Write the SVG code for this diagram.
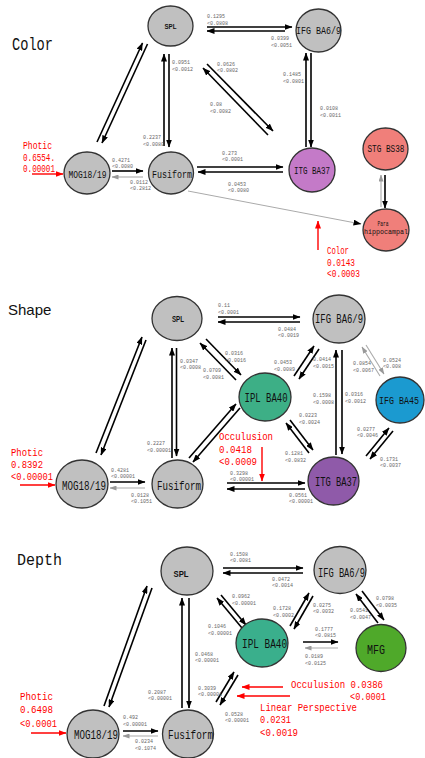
<svg xmlns="http://www.w3.org/2000/svg" width="425" height="758" viewBox="0 0 425 758">
<defs>
<marker id="ah" markerUnits="userSpaceOnUse" markerWidth="8" markerHeight="6" refX="7.5" refY="3" orient="auto"><path d="M0,0 L8,3 L0,6 z" fill="#000"/></marker>
<marker id="ag" markerUnits="userSpaceOnUse" markerWidth="7" markerHeight="5" refX="6.5" refY="2.5" orient="auto"><path d="M0,0 L7,2.5 L0,5 z" fill="#999"/></marker>
<marker id="ar" markerUnits="userSpaceOnUse" markerWidth="8" markerHeight="6" refX="7.5" refY="3" orient="auto"><path d="M0,0 L8,3 L0,6 z" fill="#f00"/></marker>
<style>
.n{stroke:#333;stroke-width:1.3}
.g{fill:#c0c0c0}
.t{font-family:"Liberation Mono",monospace;fill:#111;text-anchor:middle}
.sp{font-family:"Liberation Sans",Arial,sans-serif;font-weight:bold;fill:#111;text-anchor:middle}
.lb{font-family:"Liberation Mono",monospace;font-size:5px;fill:#666}
.red{font-family:"Liberation Mono",monospace;font-size:11px;fill:#f00}
.ttl{font-family:"Liberation Mono",monospace;fill:#111}
.k{stroke:#000;stroke-width:1.6;fill:none;marker-end:url(#ah)}
.gr{stroke:#aaa;stroke-width:1.1;fill:none;marker-end:url(#ag)}
.gk{stroke:#aaa;stroke-width:1;fill:none;marker-end:url(#ah)}
.r{stroke:#f00;stroke-width:1.4;fill:none;marker-end:url(#ar)}
</style>
</defs>
<rect width="425" height="758" fill="#fff"/>

<!-- titles -->
<text class="ttl" x="12" y="50" font-size="18" textLength="41" lengthAdjust="spacingAndGlyphs">Color</text>
<text x="8" y="315" font-family="Liberation Sans, Arial, sans-serif" font-size="15" fill="#111">Shape</text>
<text class="ttl" x="17" y="565" font-size="17" textLength="45" lengthAdjust="spacingAndGlyphs">Depth</text>

<!-- connectors -->
<g id="connectors">
<!-- Color -->
<line class="k" x1="97" y1="142" x2="142.5" y2="43"/>
<line class="k" x1="147.5" y1="44" x2="102" y2="143"/>
<line class="k" x1="164" y1="146" x2="164" y2="54"/>
<line class="k" x1="169" y1="54" x2="169" y2="147"/>
<line class="k" x1="207" y1="27" x2="292" y2="27"/>
<line class="k" x1="285" y1="31" x2="207" y2="31"/>
<line class="k" x1="268" y1="135" x2="203" y2="68"/>
<line class="k" x1="207" y1="64" x2="273" y2="131"/>
<line class="k" x1="306" y1="147" x2="306" y2="53"/>
<line class="k" x1="311" y1="53" x2="311" y2="147"/>
<line class="k" x1="197" y1="167" x2="283" y2="167"/>
<line class="k" x1="283" y1="172" x2="198" y2="172"/>
<line class="gk" x1="188" y1="191" x2="361" y2="224"/>
<line class="k" x1="112" y1="171" x2="143" y2="171"/>
<line class="gr" x1="143" y1="177" x2="112" y2="177"/>
<line class="gr" x1="381" y1="207" x2="381" y2="175"/>
<line class="k" x1="385" y1="175" x2="385" y2="208"/>
<line class="r" x1="32" y1="174" x2="63" y2="174"/>
<line class="r" x1="318" y1="250" x2="318" y2="221"/>
<!-- Shape -->
<line class="k" x1="96" y1="453" x2="142" y2="337"/>
<line class="k" x1="146" y1="340" x2="101" y2="455"/>
<line class="k" x1="172" y1="458" x2="172" y2="348"/>
<line class="k" x1="176.5" y1="348" x2="176.5" y2="456"/>
<line class="k" x1="218" y1="317" x2="300" y2="317"/>
<line class="k" x1="300" y1="322" x2="218" y2="322"/>
<line class="k" x1="236" y1="380" x2="200" y2="343"/>
<line class="k" x1="206" y1="339" x2="241" y2="375"/>
<line class="k" x1="294" y1="376" x2="314" y2="346"/>
<line class="k" x1="319" y1="349" x2="299" y2="379"/>
<line class="k" x1="336" y1="455" x2="336" y2="350"/>
<line class="k" x1="342" y1="350" x2="342" y2="454"/>
<line class="gr" x1="380" y1="376" x2="362" y2="347"/>
<line class="gr" x1="366" y1="345" x2="384" y2="374"/>
<line class="k" x1="309" y1="453" x2="286" y2="423"/>
<line class="k" x1="290" y1="420" x2="313" y2="450"/>
<line class="k" x1="366" y1="456" x2="389" y2="428"/>
<line class="k" x1="393" y1="431" x2="370" y2="459"/>
<line class="k" x1="189" y1="458" x2="236" y2="404"/>
<line class="k" x1="240" y1="408" x2="193" y2="462"/>
<line class="k" x1="227" y1="483" x2="305" y2="483"/>
<line class="k" x1="305" y1="489" x2="227" y2="489"/>
<line class="k" x1="110" y1="482" x2="145" y2="482"/>
<line class="gr" x1="145" y1="488" x2="110" y2="488"/>
<line class="r" x1="20" y1="485" x2="55" y2="485"/>
<line class="r" x1="262" y1="447" x2="262" y2="481"/>
<!-- Depth -->
<line class="k" x1="223" y1="568" x2="303" y2="568"/>
<line class="k" x1="303" y1="573" x2="223" y2="573"/>
<line class="k" x1="104" y1="706" x2="147" y2="586"/>
<line class="k" x1="152" y1="588" x2="109" y2="707"/>
<line class="k" x1="182" y1="708" x2="182" y2="598"/>
<line class="k" x1="189" y1="598" x2="189" y2="708"/>
<line class="k" x1="242" y1="628" x2="217" y2="598"/>
<line class="k" x1="221" y1="595" x2="246" y2="625"/>
<line class="k" x1="290" y1="626" x2="309" y2="593"/>
<line class="k" x1="313" y1="596" x2="294" y2="629"/>
<line class="k" x1="378" y1="623" x2="356" y2="594"/>
<line class="k" x1="362" y1="591" x2="384" y2="620"/>
<line class="k" x1="303" y1="642" x2="338" y2="642"/>
<line class="gr" x1="338" y1="648" x2="305" y2="648"/>
<line class="k" x1="216" y1="702" x2="234" y2="672"/>
<line class="k" x1="238" y1="675" x2="220" y2="705"/>
<line class="k" x1="123" y1="731" x2="158" y2="731"/>
<line class="gr" x1="158" y1="736" x2="123" y2="736"/>
<line class="r" x1="31" y1="733" x2="66" y2="733"/>
<line class="r" x1="283" y1="687" x2="242" y2="687"/>
<line class="r" x1="290" y1="696" x2="237" y2="696"/>
</g>

<!-- edge labels -->
<g id="edge-labels">
<text class="lb" x="207" y="18">0.1295<tspan x="207" dy="7">&lt;0.0808</tspan></text>
<text class="lb" x="271" y="40">0.0399<tspan x="271" dy="6.5">&lt;0.0051</tspan></text>
<text class="lb" x="172" y="64">0.0951<tspan x="172" dy="7">&lt;0.0012</tspan></text>
<text class="lb" x="143" y="139">0.2237<tspan x="143" dy="6.5">&lt;0.0080</tspan></text>
<text class="lb" x="217" y="65.5">0.0626<tspan x="217" dy="6.5">&lt;0.0802</tspan></text>
<text class="lb" x="210" y="106">0.08<tspan x="210" dy="6.5">&lt;0.0082</tspan></text>
<text class="lb" x="283" y="76">0.1485<tspan x="283" dy="6.5">&lt;0.0801</tspan></text>
<text class="lb" x="320" y="110">0.0108<tspan x="320" dy="7">&lt;0.0011</tspan></text>
<text class="lb" x="222" y="154.5">0.273<tspan x="222" dy="6">&lt;0.0001</tspan></text>
<text class="lb" x="228" y="186">0.0453<tspan x="228" dy="6">&lt;0.0080</tspan></text>
<text class="lb" x="112" y="162">0.4271<tspan x="112" dy="6">&lt;0.0080</tspan></text>
<text class="lb" x="130" y="184">0.0112<tspan x="130" dy="6">&lt;0.2812</tspan></text>

<text class="lb" x="218" y="307">0.11<tspan x="218" dy="6.5">&lt;0.0001</tspan></text>
<text class="lb" x="278" y="330.5">0.0484<tspan x="278" dy="6">&lt;0.0019</tspan></text>
<text class="lb" x="180" y="363">0.0347<tspan x="180" dy="6">&lt;0.0008</tspan></text>
<text class="lb" x="225" y="355">0.0316<tspan x="225" dy="6.5">&lt;0.0016</tspan></text>
<text class="lb" x="203" y="372">0.0709<tspan x="203" dy="6.5">&lt;0.0081</tspan></text>
<text class="lb" x="274" y="364">0.0453<tspan x="274" dy="6.5">&lt;0.0089</tspan></text>
<text class="lb" x="313" y="361">0.0414<tspan x="313" dy="7">&lt;0.0015</tspan></text>
<text class="lb" x="353" y="365">0.0854<tspan x="353" dy="6.5">&lt;0.0067</tspan></text>
<text class="lb" x="383" y="361.5">0.0524<tspan x="383" dy="6.5">&lt;0.008</tspan></text>
<text class="lb" x="313" y="397">0.1598<tspan x="313" dy="7">&lt;0.0008</tspan></text>
<text class="lb" x="345" y="396">0.0316<tspan x="345" dy="7">&lt;0.0012</tspan></text>
<text class="lb" x="299" y="417">0.0223<tspan x="299" dy="7">&lt;0.0024</tspan></text>
<text class="lb" x="285" y="455">0.1281<tspan x="285" dy="6.5">&lt;0.0832</tspan></text>
<text class="lb" x="357" y="430.5">0.0277<tspan x="357" dy="6.5">&lt;0.0046</tspan></text>
<text class="lb" x="380" y="460.5">0.1731<tspan x="380" dy="6.5">&lt;0.0037</tspan></text>
<text class="lb" x="147" y="445">0.2227<tspan x="147" dy="6.5">&lt;0.00001</tspan></text>
<text class="lb" x="111" y="472">0.4281<tspan x="111" dy="6">&lt;0.00001</tspan></text>
<text class="lb" x="131" y="496.5">0.0128<tspan x="131" dy="6.5">&lt;0.1051</tspan></text>
<text class="lb" x="230" y="475">0.3298<tspan x="230" dy="6">&lt;0.00001</tspan></text>
<text class="lb" x="289" y="496.5">0.0561<tspan x="289" dy="6.5">&lt;0.00001</tspan></text>

<text class="lb" x="230" y="555.5">0.1508<tspan x="230" dy="6.5">&lt;0.0081</tspan></text>
<text class="lb" x="272" y="580.5">0.0472<tspan x="272" dy="6">&lt;0.0014</tspan></text>
<text class="lb" x="232" y="598">0.0962<tspan x="232" dy="6.5">&lt;0.00001</tspan></text>
<text class="lb" x="208" y="628">0.1046<tspan x="208" dy="6.5">&lt;0.00001</tspan></text>
<text class="lb" x="273" y="610">0.1728<tspan x="273" dy="7">&lt;0.0002</tspan></text>
<text class="lb" x="313" y="606.5">0.0275<tspan x="313" dy="6.5">&lt;0.0032</tspan></text>
<text class="lb" x="376" y="599.5">0.0798<tspan x="376" dy="7">&lt;0.0035</tspan></text>
<text class="lb" x="350" y="612">0.0541<tspan x="350" dy="7">&lt;0.0047</tspan></text>
<text class="lb" x="315" y="630.5">0.1777<tspan x="315" dy="6.5">&lt;0.0815</tspan></text>
<text class="lb" x="305" y="658">0.0189<tspan x="305" dy="7">&lt;0.0125</tspan></text>
<text class="lb" x="195" y="656">0.0468<tspan x="195" dy="6">&lt;0.00001</tspan></text>
<text class="lb" x="148" y="694">0.2087<tspan x="148" dy="6">&lt;0.00001</tspan></text>
<text class="lb" x="198" y="690">0.3039<tspan x="198" dy="6">&lt;0.00001</tspan></text>
<text class="lb" x="225" y="715.5">0.0528<tspan x="225" dy="6.5">&lt;0.00001</tspan></text>
<text class="lb" x="123" y="719">0.492<tspan x="123" dy="6.5">&lt;0.00001</tspan></text>
<text class="lb" x="135" y="743">0.0234<tspan x="135" dy="6.5">&lt;0.1074</tspan></text>
</g>

<!-- red annotations -->
<g id="annotations">
<text class="red" font-size="10" x="23" y="149" textLength="29" lengthAdjust="spacingAndGlyphs">Photic</text>
<text class="red" font-size="10" x="23" y="161" textLength="32" lengthAdjust="spacingAndGlyphs">0.6554.</text>
<text class="red" font-size="10" x="23" y="172" textLength="32" lengthAdjust="spacingAndGlyphs">0.00001</text>
<text class="red" font-size="10" x="327" y="254" textLength="22" lengthAdjust="spacingAndGlyphs">Color</text>
<text class="red" font-size="10" x="327" y="266" textLength="28" lengthAdjust="spacingAndGlyphs">0.0143</text>
<text class="red" font-size="10" x="327" y="277" textLength="33" lengthAdjust="spacingAndGlyphs">&lt;0.0003</text>

<text class="red" x="11" y="456" textLength="32" lengthAdjust="spacingAndGlyphs">Photic</text>
<text class="red" x="11" y="467.5" textLength="32" lengthAdjust="spacingAndGlyphs">0.8392</text>
<text class="red" x="11" y="480" textLength="42" lengthAdjust="spacingAndGlyphs">&lt;0.00001</text>
<text class="red" x="219" y="440" textLength="54" lengthAdjust="spacingAndGlyphs">Occulusion</text>
<text class="red" x="219" y="452.5" textLength="33" lengthAdjust="spacingAndGlyphs">0.0418</text>
<text class="red" x="219" y="465" textLength="38" lengthAdjust="spacingAndGlyphs">&lt;0.0009</text>

<text class="red" x="20" y="700" textLength="33" lengthAdjust="spacingAndGlyphs">Photic</text>
<text class="red" x="20" y="713" textLength="33" lengthAdjust="spacingAndGlyphs">0.6498</text>
<text class="red" x="20" y="727" textLength="37" lengthAdjust="spacingAndGlyphs">&lt;0.0001</text>
<text class="red" x="291" y="688" textLength="92" lengthAdjust="spacingAndGlyphs">Occulusion 0.0386</text>
<text class="red" font-size="10.5" x="350" y="700" textLength="36" lengthAdjust="spacingAndGlyphs">&lt;0.0001</text>
<text class="red" font-size="10.5" x="260" y="710.5" textLength="97" lengthAdjust="spacingAndGlyphs">Linear Perspective</text>
<text class="red" x="260" y="722.5" textLength="31" lengthAdjust="spacingAndGlyphs">0.0231</text>
<text class="red" x="260" y="736" textLength="38" lengthAdjust="spacingAndGlyphs">&lt;0.0019</text>
</g>

<!-- Color nodes -->
<g id="c-spl"><ellipse class="n g" cx="170.5" cy="26" rx="22.5" ry="20"/><text class="sp" x="170.5" y="29" font-size="8" textLength="12" lengthAdjust="spacingAndGlyphs">SPL</text></g>
<g id="c-ifg69"><ellipse class="n g" cx="318.5" cy="30.5" rx="22.5" ry="21.5"/><text class="t" x="318.5" y="33.5" font-size="11" textLength="45" lengthAdjust="spacingAndGlyphs">IFG BA6/9</text></g>
<g id="c-mog"><ellipse class="n g" cx="87" cy="173" rx="23" ry="21"/><text class="t" x="87.5" y="177.5" font-size="11" textLength="38" lengthAdjust="spacingAndGlyphs">MOG18/19</text></g>
<g id="c-fus"><ellipse class="n g" cx="171" cy="173" rx="22.5" ry="21"/><text class="t" x="172" y="177.5" font-size="11" textLength="40" lengthAdjust="spacingAndGlyphs">Fusiform</text></g>
<g id="c-itg"><ellipse class="n" fill="#c47ac8" cx="312" cy="170" rx="23" ry="22"/><text class="t" x="312" y="173.5" font-size="11" textLength="36" lengthAdjust="spacingAndGlyphs">ITG BA37</text></g>
<g id="c-stg"><ellipse class="n" fill="#f07f7a" cx="385.5" cy="149" rx="22.5" ry="21"/><text class="t" x="386" y="152" font-size="10" textLength="37" lengthAdjust="spacingAndGlyphs">STG BS38</text></g>
<g id="c-para"><ellipse class="n" fill="#f07f7a" cx="386" cy="230" rx="23" ry="21"/><text class="t" x="383" y="226" font-size="7" textLength="11" lengthAdjust="spacingAndGlyphs">Para</text><text class="t" x="386" y="234" font-size="7.5" textLength="44" lengthAdjust="spacingAndGlyphs">hippocampal</text></g>

<!-- Shape nodes -->
<g id="s-spl"><ellipse class="n g" cx="177" cy="318.5" rx="25" ry="22"/><text class="sp" x="178" y="321.5" font-size="8.5" textLength="12" lengthAdjust="spacingAndGlyphs">SPL</text></g>
<g id="s-ifg69"><ellipse class="n g" cx="339" cy="319" rx="26" ry="24"/><text class="t" x="339" y="323" font-size="12" textLength="48" lengthAdjust="spacingAndGlyphs">IFG BA6/9</text></g>
<g id="s-ipl"><ellipse class="n" fill="#3daf86" cx="265" cy="397" rx="26" ry="24"/><text class="t" x="266" y="402" font-size="12" textLength="43" lengthAdjust="spacingAndGlyphs">IPL BA40</text></g>
<g id="s-ifg45"><ellipse class="n" fill="#1b9ad0" cx="400" cy="400" rx="24" ry="23"/><text class="t" x="399" y="404" font-size="10" textLength="40" lengthAdjust="spacingAndGlyphs">IFG BA45</text></g>
<g id="s-mog"><ellipse class="n g" cx="82" cy="484" rx="26" ry="24"/><text class="t" x="84" y="489.5" font-size="12" textLength="44" lengthAdjust="spacingAndGlyphs">MOG18/19</text></g>
<g id="s-fus"><ellipse class="n g" cx="177.5" cy="484" rx="25.5" ry="24"/><text class="t" x="179" y="489.5" font-size="12" textLength="44" lengthAdjust="spacingAndGlyphs">Fusiform</text></g>
<g id="s-itg"><ellipse class="n" fill="#8f5aa9" cx="333.5" cy="481" rx="25.5" ry="24"/><text class="t" x="336" y="486" font-size="12" textLength="42" lengthAdjust="spacingAndGlyphs">ITG BA37</text></g>

<!-- Depth nodes -->
<g id="d-spl"><ellipse class="n g" cx="187" cy="571" rx="26" ry="24"/><text class="sp" x="181" y="577" font-size="9" textLength="15" lengthAdjust="spacingAndGlyphs">SPL</text></g>
<g id="d-ifg69"><ellipse class="n g" cx="340" cy="570" rx="26" ry="23.5"/><text class="t" x="341.5" y="576.5" font-size="12" textLength="47" lengthAdjust="spacingAndGlyphs">IFG BA6/9</text></g>
<g id="d-ipl"><ellipse class="n" fill="#3aaf8c" cx="262" cy="643" rx="26" ry="24"/><text class="t" x="264.5" y="648" font-size="12" textLength="45" lengthAdjust="spacingAndGlyphs">IPL BA40</text></g>
<g id="d-mfg"><ellipse class="n" fill="#4fa92a" cx="381" cy="648" rx="25" ry="23.5"/><text class="t" x="376" y="654" font-size="12" textLength="18" lengthAdjust="spacingAndGlyphs">MFG</text></g>
<g id="d-mog"><ellipse class="n g" cx="93" cy="734" rx="26" ry="24"/><text class="t" x="96" y="738.5" font-size="12" textLength="44" lengthAdjust="spacingAndGlyphs">MOG18/19</text></g>
<g id="d-fus"><ellipse class="n g" cx="188" cy="734" rx="25.5" ry="24"/><text class="t" x="190.5" y="738.5" font-size="12" textLength="45" lengthAdjust="spacingAndGlyphs">Fusiform</text></g>
</svg>
